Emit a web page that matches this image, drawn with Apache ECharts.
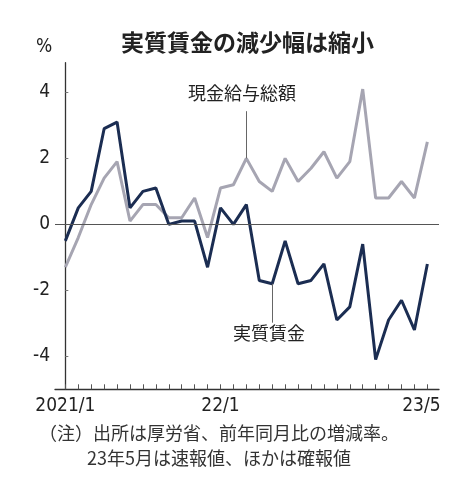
<!DOCTYPE html>
<html>
<head>
<meta charset="utf-8">
<script src="https://cdn.jsdelivr.net/npm/echarts@6/dist/echarts.min.js"></script>
<style>
  html, body { margin: 0; padding: 0; background: #fff; }
  #chart { width: 455px; height: 493px; }
</style>
</head>
<body>
<div id="chart"></div>
<script>
// 2021/1 .. 2023/5, 前年同月比 (%)
const months = ['2021/1', '21/2', '21/3', '21/4', '21/5', '21/6', '21/7', '21/8', '21/9', '21/10', '21/11', '21/12',
  '22/1', '22/2', '22/3', '22/4', '22/5', '22/6', '22/7', '22/8', '22/9', '22/10', '22/11', '22/12',
  '23/1', '23/2', '23/3', '23/4', '23/5']
const cashWages = [-1.3, -0.4, 0.6, 1.4, 1.9, 0.1, 0.6, 0.6, 0.2, 0.2, 0.8, -0.4,
  1.1, 1.2, 2.0, 1.3, 1.0, 2.0, 1.3, 1.7, 2.2, 1.4, 1.9, 4.1,
  0.8, 0.8, 1.3, 0.8, 2.5]
const realWages = [-0.5, 0.5, 1.0, 2.9, 3.1, 0.5, 1.0, 1.1, 0.0, 0.1, 0.1, -1.3,
  0.5, 0.0, 0.6, -1.7, -1.8, -0.5, -1.8, -1.7, -1.2, -2.9, -2.5, -0.6,
  -4.1, -2.9, -2.3, -3.2, -1.2]
const yTicks = [-4, -2, 0, 2, 4]
const xLabelIdx = [0, 12, 28]
const xLabels = { 0: '2021/1', 12: '22/1', 28: '{last|23/5}' }

const numFont = '"Liberation Sans Narrow", "DejaVu Sans Condensed", sans-serif'
const jpFont = '"Noto Sans CJK JP", sans-serif'

let chart = echarts.init(document.getElementById('chart'))

let option = {
  animation: false,
  grid: {
    left: 55,
    right: 16,
    top: 62.7,
    height: 326.6,
    containLabel: false
  },
  xAxis: {
    type: 'value',
    min: -0.8,
    max: 28.9,
    axisLine: { show: true, onZero: false, lineStyle: { color: '#333', width: 1.3 } },
    axisTick: {
      show: true,
      inside: true,
      length: 5,
      customValues: months.map((m, i) => i),
      lineStyle: { color: '#555', width: 1 }
    },
    axisLabel: {
      customValues: xLabelIdx,
      formatter: (v) => xLabels[v] || '',
      color: '#222',
      fontFamily: numFont,
      fontSize: 19,
      margin: 7,
      rich: {
        last: { fontFamily: numFont, fontSize: 19, color: '#222', padding: [0, 12, 0, 0] }
      }
    },
    splitLine: { show: false }
  },
  yAxis: {
    type: 'value',
    min: -5,
    max: 4.9,
    axisLine: { show: true, lineStyle: { color: '#333', width: 1.3 } },
    axisTick: {
      show: true,
      inside: true,
      length: 3,
      customValues: yTicks,
      lineStyle: { color: '#777', width: 1 }
    },
    axisLabel: {
      customValues: yTicks,
      color: '#222',
      fontFamily: numFont,
      fontSize: 19,
      margin: 5
    },
    splitLine: { show: false }
  },
  series: [
    {
      name: '現金給与総額',
      type: 'line',
      data: cashWages.map((v, i) => [i, v]),
      symbol: 'none',
      lineStyle: { color: '#a6a5b2', width: 3 },
      z: 2,
      markLine: {
        silent: true,
        symbol: 'none',
        label: { show: false },
        lineStyle: { color: '#666', width: 1, type: 'solid' },
        data: [
          [{ coord: [14, cashWages[14]] }, { coord: [14, 3.43] }]
        ]
      }
    },
    {
      name: '実質賃金',
      type: 'line',
      data: realWages.map((v, i) => [i, v]),
      symbol: 'none',
      lineStyle: { color: '#1b2d52', width: 3 },
      z: 3,
      markLine: {
        silent: true,
        symbol: 'none',
        label: { show: false },
        lineStyle: { color: '#666', width: 1, type: 'solid' },
        data: [
          { yAxis: 0, lineStyle: { color: '#555', width: 1 } },
          [{ coord: [16, realWages[16]] }, { coord: [16, -2.98] }]
        ]
      }
    }
  ],
  graphic: [
    {
      type: 'text',
      left: 121,
      top: 31,
      style: {
        text: '実質賃金の減少幅は縮小',
        font: 'bold 23px ' + jpFont,
        fill: '#222'
      }
    },
    {
      type: 'text',
      left: 36,
      top: 38,
      style: { text: '%', font: '19px ' + numFont, fill: '#222' }
    },
    {
      type: 'text',
      left: 188,
      top: 84,
      style: { text: '現金給与総額', font: '18px ' + jpFont, fill: '#222' }
    },
    {
      type: 'text',
      left: 233,
      top: 324,
      style: { text: '実質賃金', font: '18px ' + jpFont, fill: '#222' }
    },
    {
      type: 'text',
      x: 219,
      y: 421,
      style: {
        text: '（注）出所は厚労省、前年同月比の増減率。\n23年5月は速報値、ほかは確報値',
        font: '18px ' + jpFont,
        fill: '#333',
        align: 'center',
        lineHeight: 25
      }
    }
  ]
}

chart.setOption(option)
</script>
</body>
</html>
